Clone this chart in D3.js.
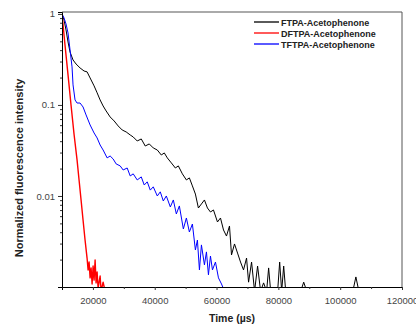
<!DOCTYPE html>
<html>
<head>
<meta charset="utf-8">
<script src="https://cdn.jsdelivr.net/npm/d3@7/dist/d3.min.js"></script>
<style>
  body { margin: 0; background: #fff; }
  svg { font-family: "Liberation Sans", Arial, sans-serif; }
</style>
</head>
<body>
<svg width="416" height="327"></svg>
<script>
// series names
const seriesNames = ["FTPA-Acetophenone", "DFTPA-Acetophenone", "TFTPA-Acetophenone"];
const seriesColors = ["#000000", "#ff0000", "#0000ff"];

// time (µs) and normalized intensity
const ftpaTime = [10000, 10650, 11300, 11950, 12600, 13570, 14540, 15840, 17140, 18110, 19090, 20380, 21360, 22330, 23300, 24280, 25580, 26870, 28170, 29470, 30770, 32070, 33040, 34340, 35640, 36930, 38230, 39530, 40830, 42130, 43100, 44070, 45370, 46670, 47640, 48940, 50240, 51210, 52190, 53160, 54130, 55110, 56080, 57050, 58030, 59000, 60300, 61270, 62250, 63220, 64190, 64840, 65810, 66790, 67760, 68730, 69710, 70360, 71330, 72300, 73280, 74250, 75220, 76200, 76850, 77500, 79770, 80420, 81070, 81720, 82370, 87230, 88200, 89180, 104100, 105080, 106050, 113000];
const ftpaValue = [1, 0.859, 0.667, 0.492, 0.382, 0.312, 0.282, 0.255, 0.236, 0.231, 0.198, 0.162, 0.136, 0.1135, 0.0975, 0.0859, 0.0738, 0.0667, 0.0588, 0.0531, 0.0505, 0.0468, 0.0445, 0.0402, 0.0423, 0.0354, 0.0373, 0.0337, 0.0320, 0.0282, 0.0297, 0.0262, 0.0231, 0.0203, 0.0214, 0.0175, 0.0150, 0.0158, 0.0129, 0.0105, 0.00738, 0.00817, 0.00904, 0.00738, 0.00667, 0.00702, 0.00518, 0.00573, 0.00423, 0.00363, 0.00468, 0.00225, 0.00297, 0.00236, 0.00188, 0.00154, 0.00208, 0.00113, 0.00188, 0.0009, 0.00170, 0.0009, 0.00111, 0.0009, 0.00162, 0.0009, 0.0009, 0.00188, 0.0009, 0.00170, 0.0009, 0.0009, 0.00113, 0.0009, 0.0009, 0.00129, 0.0009, 0.0009];

const dftpaTime = [10000, 10970, 11950, 12920, 13890, 14870, 15520, 16170, 16810, 17460, 18110, 18440, 18760, 19090, 19410, 19740, 20060, 20380, 20710, 21030, 21360, 21680, 22330, 22660, 23300, 23950];
const dftpaValue = [1, 0.456, 0.214, 0.100, 0.048, 0.0249, 0.0150, 0.00904, 0.00545, 0.00328, 0.00208, 0.00154, 0.00188, 0.00126, 0.00162, 0.00108, 0.00170, 0.00119, 0.00198, 0.00111, 0.00146, 0.00097, 0.00132, 0.0009, 0.00113, 0.0009];

const tftpaTime = [10000, 10650, 11300, 11950, 12600, 13250, 13570, 14220, 14870, 15840, 16810, 17790, 19090, 20380, 21360, 22330, 23300, 24600, 25580, 26550, 27520, 28820, 29790, 31090, 32070, 33040, 34340, 35640, 36610, 37580, 38560, 39530, 40830, 41800, 42770, 43750, 45050, 46020, 46990, 47970, 49260, 50240, 51210, 52190, 53160, 53810, 54460, 55110, 56080, 56730, 57380, 58030, 58680, 59650, 60620, 61600, 62570];
const tftpaValue = [1, 0.904, 0.776, 0.618, 0.402, 0.262, 0.166, 0.1135, 0.105, 0.105, 0.095, 0.0777, 0.0603, 0.0492, 0.0434, 0.0363, 0.0320, 0.0262, 0.0275, 0.0255, 0.0225, 0.0214, 0.0193, 0.0203, 0.0166, 0.0175, 0.0150, 0.0162, 0.0132, 0.0143, 0.0116, 0.0126, 0.0100, 0.0111, 0.00881, 0.0100, 0.00757, 0.00904, 0.00634, 0.00777, 0.00434, 0.00573, 0.00402, 0.00492, 0.00255, 0.00328, 0.00154, 0.00290, 0.00175, 0.00243, 0.00136, 0.00219, 0.00154, 0.00188, 0.00126, 0.00108, 0.0009];

const xTicks = [20000, 40000, 60000, 80000, 100000, 120000];
const yTicks = [1, 0.1, 0.01];

const svg = d3.select("svg");
const margin = {top: 12, right: 14, bottom: 40, left: 62};
const width = 416 - margin.left - margin.right;
const height = 327 - margin.top - margin.bottom;

const x = d3.scaleLinear().domain([10000, 120000]).range([0, width]);
const y = d3.scaleLog().domain([0.001, 1.05]).range([height, 0]);

const g = svg.append("g")
    .attr("transform", "translate(" + margin.left + "," + margin.top + ")");

g.append("clipPath").attr("id", "clip")
    .append("rect").attr("width", width).attr("height", height);

// frame: top and right
g.append("line").attr("x1", 0).attr("x2", width).attr("y1", 0).attr("y2", 0)
    .attr("stroke", "#aaa").attr("stroke-width", 2);
g.append("line").attr("x1", width).attr("x2", width).attr("y1", 0).attr("y2", height)
    .attr("stroke", "#555").attr("stroke-width", 1);

const series = [
    {name: seriesNames[0], color: seriesColors[0], t: ftpaTime, v: ftpaValue, w: 1},
    {name: seriesNames[1], color: seriesColors[1], t: dftpaTime, v: dftpaValue, w: 1.4},
    {name: seriesNames[2], color: seriesColors[2], t: tftpaTime, v: tftpaValue, w: 1}
];

const line = d3.line()
    .x(function (d) { return x(d[0]); })
    .y(function (d) { return y(d[1]); });

// black first, then blue, red on top
[0, 2, 1].forEach(function (i) {
    const s = series[i];
    g.append("path")
        .datum(d3.zip(s.t, s.v))
        .attr("clip-path", "url(#clip)")
        .attr("fill", "none")
        .attr("stroke", s.color)
        .attr("stroke-width", s.w)
        .attr("stroke-linejoin", "round")
        .attr("d", line);
});

// x axis
g.append("g")
    .attr("class", "axis axis--x")
    .attr("transform", "translate(0," + height + ")")
    .call(d3.axisBottom(x).tickValues(xTicks).tickSize(3).tickPadding(7).tickFormat(d3.format("d")));
g.append("g")
    .attr("transform", "translate(0," + height + ")")
    .call(d3.axisBottom(x).tickValues(d3.range(30000, 120000, 20000)).tickSize(2).tickFormat(""))
    .call(function (a) { a.select(".domain").remove(); });

// y axis
g.append("g")
    .attr("class", "axis axis--y")
    .call(d3.axisLeft(y).tickValues(yTicks).tickSize(4).tickPadding(3).tickFormat(function (d) { return d; }));
const minorY = [];
[0.001, 0.01, 0.1].forEach(function (b) {
    for (let k = 2; k <= 9; k++) minorY.push(b * k);
});
g.append("g")
    .call(d3.axisLeft(y).tickValues(minorY).tickSize(2).tickFormat(""))
    .call(function (a) { a.select(".domain").remove(); });

svg.selectAll(".axis text").attr("font-size", 9.5).attr("fill", "#444")
    .attr("font-family", "'Liberation Sans', Arial, sans-serif");
svg.selectAll(".tick line").attr("stroke", "#333");

// axis titles
svg.append("text")
    .attr("x", 232).attr("y", 322)
    .attr("text-anchor", "middle")
    .attr("font-size", 10.5).attr("font-weight", "bold").attr("fill", "#222")
    .text("Time (µs)");
svg.append("text")
    .attr("transform", "translate(23,168) rotate(-90)")
    .attr("text-anchor", "middle")
    .attr("font-size", 11).attr("font-weight", "bold").attr("fill", "#222")
    .text("Normalized fluorescence intensity");

// legend
const legend = svg.append("g").attr("transform", "translate(254,22)");
series.forEach(function (s, i) {
    const row = legend.append("g").attr("transform", "translate(0," + (i * 11) + ")");
    row.append("line").attr("x1", 0).attr("x2", 25).attr("y1", 0).attr("y2", 0)
        .attr("stroke", s.color).attr("stroke-width", 1.3);
    row.append("text").attr("x", 27).attr("y", 3.5)
        .attr("font-size", 9).attr("font-weight", "bold").attr("fill", "#222")
        .text(s.name);
});
</script>
</body>
</html>
